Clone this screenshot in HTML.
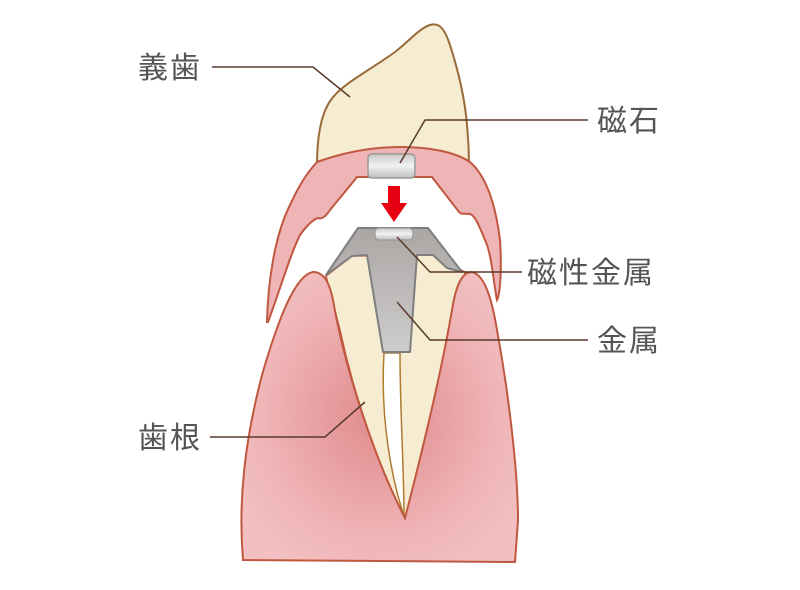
<!DOCTYPE html>
<html><head><meta charset="utf-8"><style>
html,body{margin:0;padding:0;background:#fff;width:800px;height:590px;overflow:hidden}
text{font-family:"Liberation Sans","Noto Sans CJK JP",sans-serif;font-size:30px;letter-spacing:2px;fill:#555}
</style></head><body>
<svg width="800" height="590" viewBox="0 0 800 590" xmlns="http://www.w3.org/2000/svg">
<defs>
<radialGradient id="gum" cx="0.5" cy="0.5" r="0.6">
<stop offset="0" stop-color="#e08a8c"/><stop offset="0.7" stop-color="#efb4b6"/><stop offset="1" stop-color="#f2c0c2"/>
</radialGradient>
<linearGradient id="metal" x1="0" y1="0" x2="0" y2="1">
<stop offset="0" stop-color="#a9a6a4"/><stop offset="1" stop-color="#cfcdcc"/>
</linearGradient>
<linearGradient id="mag" x1="0" y1="0" x2="0" y2="1">
<stop offset="0" stop-color="#c9c9c9"/><stop offset="0.5" stop-color="#f2f2f2"/><stop offset="1" stop-color="#bdbdbd"/>
</linearGradient>
</defs>
<path d="M317,165 C317,140 320,110 335,95 C345,83 370,70 395,52 C410,40 420,28 430,25 C440,22 445,30 450,45 C458,70 465,100 467,125 C469,145 469,160 469,165 Z" fill="#f6ecd2" stroke="#9a6b3a" stroke-width="2"/>
<path d="M267,322 C268,280 275,235 290,205 C298,188 305,175 317,162 C350,150 380,147 400,147 C430,147 455,152 470,162 C485,175 495,200 500,240 C502,270 500,295 497,300 C493,280 492,255 485,240 C480,228 475,215 470,214 C465,213 462,215 459,212 L432,177 L357,177 C350,186 338,200 330,210 C326,216 322,220 318,218 C312,220 305,228 300,235 C290,255 280,290 268,322 Z" fill="#efb4b6" stroke="#c0573f" stroke-width="2"/>
<rect x="368" y="154" width="47" height="24" rx="4" fill="url(#mag)" stroke="#999" stroke-width="1.5"/>
<path d="M388,186 L400,186 L400,203 L407,203 L394,222 L381,203 L388,203 Z" fill="#e60012"/>
<path d="M326,276 L352,256 L433,255 L465,272 C455,330 440,400 425,450 C418,480 410,505 405,518 C380,470 355,400 340,330 Z" fill="#f6ecd2" stroke="#c0573f" stroke-width="1.5"/>
<path d="M384,353 C380,420 392,480 404,516 C404,470 400,410 400,353 Z" fill="#fff" stroke="#b07a30" stroke-width="1.5"/>
<path d="M358,228 L428,228 L462,272 L447,268 L433,255 L417,255 L410,352 L383,352 L367,255 L352,256 L326,275 Z" fill="url(#metal)" stroke="#7f7f7f" stroke-width="2" stroke-linejoin="round"/>
<rect x="375" y="228" width="38" height="12" rx="4" fill="url(#mag)" stroke="#999" stroke-width="1.2"/>
<path d="M243,560 C238,500 245,440 262,375 C278,320 295,275 313,272 C325,272 330,285 333,300 C345,370 375,460 405,518 C420,460 440,380 452,310 C456,285 462,272 472,272 C485,275 492,300 497,330 C508,390 518,470 518,520 L515,562 Z" fill="url(#gum)" stroke="#c0573f" stroke-width="2"/>
<g stroke="#5a3a2a" stroke-width="1.5" fill="none">
<polyline points="212,67 313,67 350,97"/>
<polyline points="588,120 425,120 400,163"/>
<polyline points="522,272 430,272 397,237"/>
<polyline points="588,340 430,340 397,302"/>
<polyline points="210,437 325,437 365,402"/>
</g>
<text x="138" y="78">義歯</text>
<text x="597" y="131">磁石</text>
<text x="527" y="283">磁性金属</text>
<text x="597" y="351">金属</text>
<text x="138" y="448">歯根</text>
</svg>
</body></html>
